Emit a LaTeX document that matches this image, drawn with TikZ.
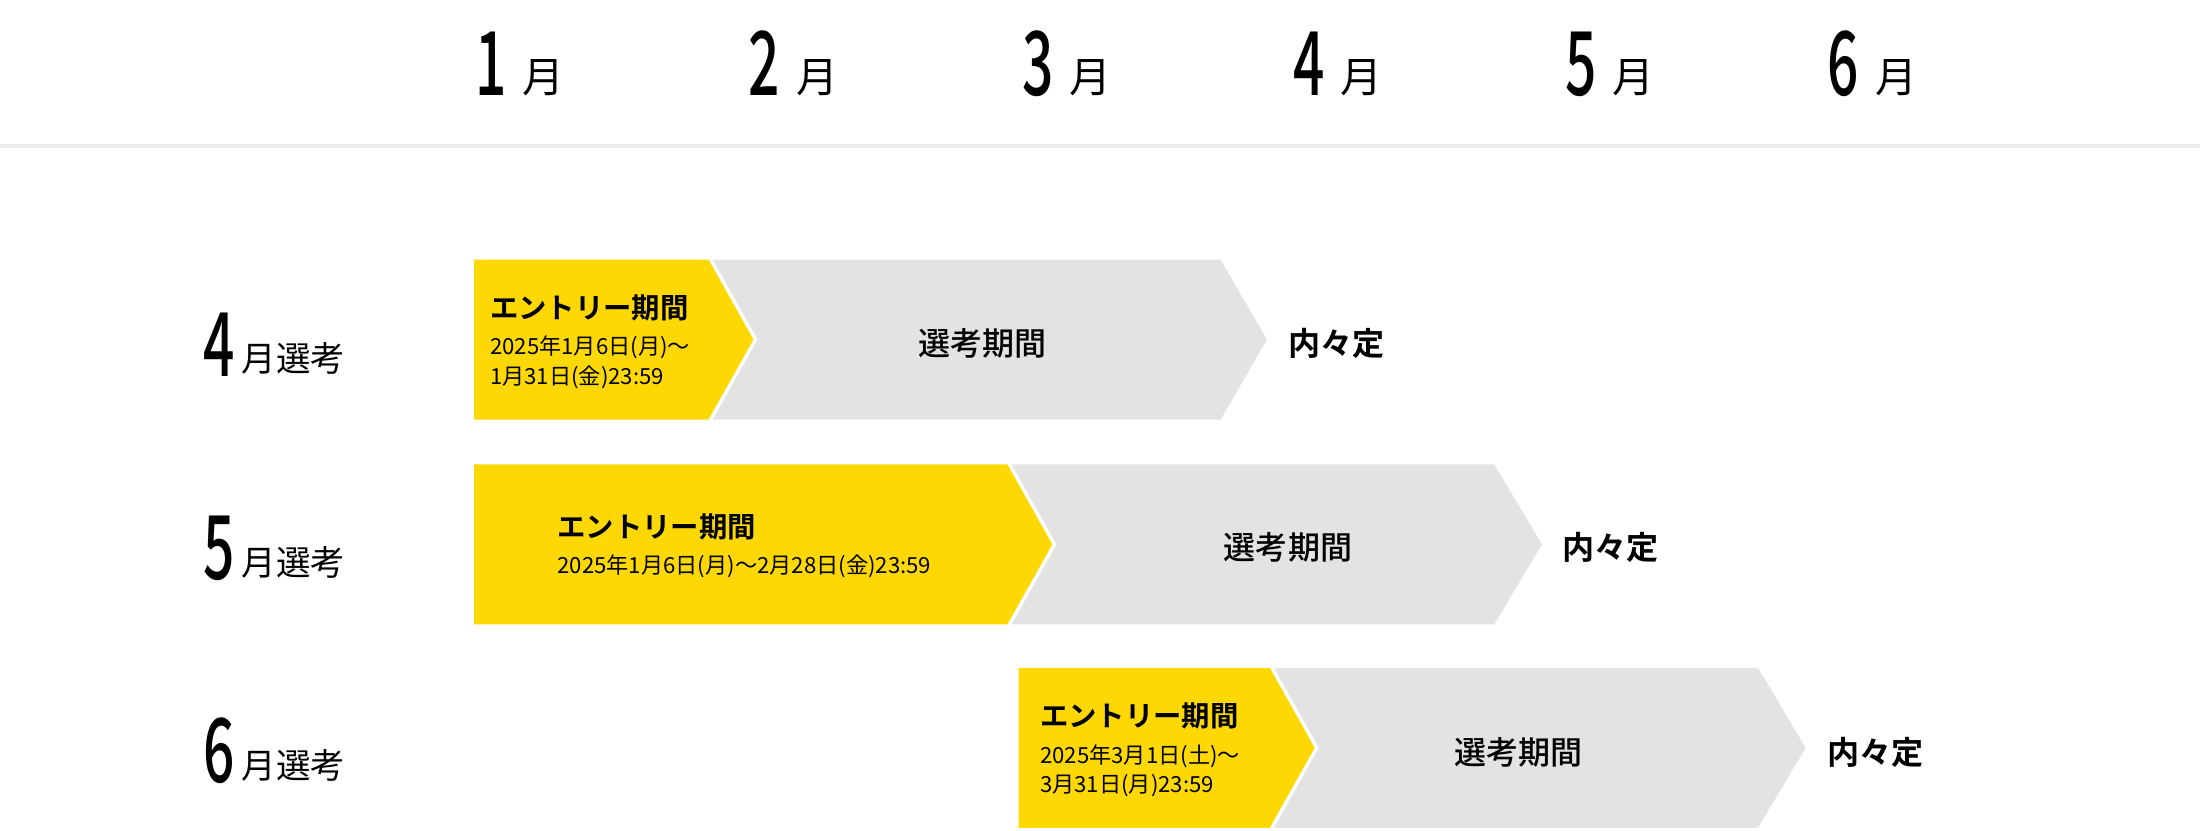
\documentclass[tikz,border=0pt]{standalone}
\usepackage{fontspec}
\setmainfont{Noto Sans CJK JP}
\newfontfamily\jpb{Noto Sans CJK JP Bold}
\newfontfamily\jpm{Noto Sans CJK JP Medium}
\begin{document}
\begin{tikzpicture}[x=0.02cm,y=-0.02cm,
  ent/.style={fill=yellow!90!orange!60!yellow, draw=white, line width=1.2pt},
  sel/.style={fill=black!11, draw=none},
  big/.style={font=\jpm\fontsize{36}{36}\selectfont, xscale=0.62, inner sep=0pt},
  mon/.style={font=\fontsize{17}{17}\selectfont, inner sep=0pt},
  lab/.style={font=\fontsize{14}{14}\selectfont, inner sep=0pt, anchor=base west},
  etit/.style={font=\jpb\fontsize{11.5}{11.5}\selectfont, inner sep=0pt, anchor=base west},
  edate/.style={font=\fontsize{9}{9}\selectfont, inner sep=0pt, anchor=base west},
  stit/.style={font=\jpm\fontsize{13}{13}\selectfont, inner sep=0pt},
  nai/.style={font=\jpb\fontsize{13}{13}\selectfont, inner sep=0pt, anchor=west}]
\colorlet{ylw}{yellow!88!red}
\useasboundingbox (0,0) rectangle (1568,591.6);
% header
\foreach \m/\x in {1/350,2/545,3/740,4/933,5/1127,6/1314}{
  \node[big, anchor=base] (d\m) at (\x,68) {\m};
  \node[mon, anchor=base west] (m\m) at (\x+22,66) {月};
}
\draw[black!8, line width=1.5pt] (0,104) -- (1568,104);
% row labels
\foreach \r/\y/\k in {4/268/1,5/413/2,6/558/3}{
  \node[big, anchor=base] (l\k) at (156,\y) {\r};
  \node[lab] (lt\k) at (172,\y-3) {月選考};
}
% row 1
\fill[black!11] (508,185) -- (870,185) -- (903,242) -- (870,299) -- (508,299) -- (540,242) -- cycle;
\fill[ylw] (338,185) -- (505,185) -- (537,242) -- (505,299) -- (338,299) -- cycle;
\node[etit] (e1) at (349,227) {エントリー期間};
\node[edate] (e1a) at (349,253) {2025年1月6日(月)～};
\node[edate] (e1b) at (349,274) {1月31日(金)23:59};
\node[stit] (s1) at (700,245) {選考期間};
\node[nai] (n1) at (918,245) {内々定};
% row 2
\fill[black!11] (721,331) -- (1065,331) -- (1099,388) -- (1065,445) -- (721,445) -- (753,388) -- cycle;
\fill[ylw] (338,331) -- (718,331) -- (750,388) -- (718,445) -- (338,445) -- cycle;
\node[etit] (e2) at (397,383) {エントリー期間};
\node[edate] (e2a) at (397,409) {2025年1月6日(月)～2月28日(金)23:59};
\node[stit] (s2) at (918,390) {選考期間};
\node[nai] (n2) at (1113,390) {内々定};
% row 3
\fill[black!11] (908,476) -- (1253,476) -- (1287,533) -- (1253,590) -- (908,590) -- (940,533) -- cycle;
\fill[ylw] (726,476) -- (905,476) -- (937,533) -- (905,590) -- (726,590) -- cycle;
\node[etit] (e3) at (741,518) {エントリー期間};
\node[edate] (e3a) at (741,544) {2025年3月1日(土)～};
\node[edate] (e3b) at (741,565) {3月31日(月)23:59};
\node[stit] (s3) at (1082,536) {選考期間};
\node[nai] (n3) at (1302,536) {内々定};
\end{tikzpicture}
\end{document}
